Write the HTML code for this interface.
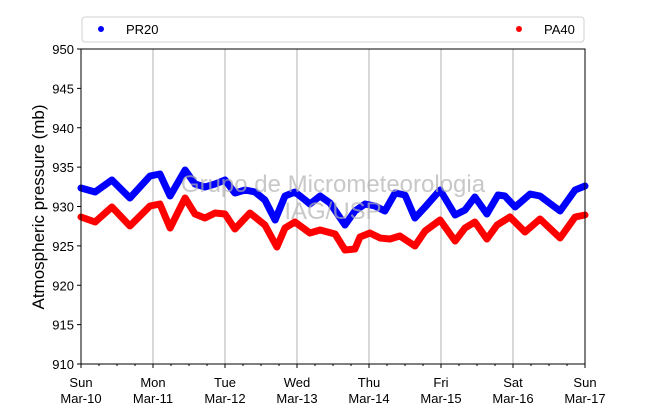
<!DOCTYPE html>
<html><head><meta charset="utf-8"><style>body{margin:0;background:#fff}svg text{font-family:"Liberation Sans",sans-serif}</style></head>
<body>
<svg id="c" width="650" height="409" xmlns="http://www.w3.org/2000/svg"></svg>
<script>
const dayLabels=["Sun","Mon","Tue","Wed","Thu","Fri","Sat","Sun"];
const dateLabels=["Mar-10","Mar-11","Mar-12","Mar-13","Mar-14","Mar-15","Mar-16","Mar-17"];
const yTicks=[910,915,920,925,930,935,940,945,950];
const pr20Hours=[0,4.7,10.3,16.3,23,26.3,28,29.7,34.7,38,41.3,44.7,48,51.3,54.7,58,61.3,64.7,68,71.3,74.7,76.3,79.7,83,88,91.3,94.7,98,101.3,104.7,108,111.3,114.7,119.7,124.7,128,131.3,135.3,139,141.3,144.7,149.7,153,159.7,164.7,168];
const pr20Values=[932.35,931.84,933.37,931.08,933.87,934.13,932.73,931.33,934.63,932.86,932.48,932.86,933.37,931.71,932.1,931.84,930.83,928.29,931.33,931.84,930.83,930.32,931.33,930.44,927.65,929.43,930.32,930.06,929.43,931.71,931.46,928.54,929.94,932.1,928.92,929.56,931.21,929.05,931.46,931.33,929.94,931.59,931.33,929.43,932.1,932.6];
const pa40Hours=[0,4.7,10.3,16.3,23,26.3,29.7,34.7,38,41.3,44.7,48,51.3,56.3,61.3,65.3,68,71.3,76.3,79.7,84.7,88,91.3,93,96.3,99.7,103,106.3,111.3,114.7,119.7,124.7,128,131.3,135.3,138.7,143,148,153,159.7,164.7,168];
const pa40Values=[928.67,928.03,929.94,927.52,930.06,930.32,927.27,931.08,929.05,928.54,929.17,929.05,927.14,929.17,927.65,924.86,927.27,928.03,926.63,927.02,926.51,924.48,924.6,926.13,926.63,926,925.87,926.25,924.98,926.89,928.29,925.62,927.27,928.03,925.87,927.65,928.67,926.76,928.41,926,928.67,928.92];

const NS="http://www.w3.org/2000/svg",svg=document.getElementById('c');
const L=81,R=585,T=49,B=364;
const xs=h=>L+(R-L)*h/168, ys=v=>B-(B-T)*(v-910)/40;
function mk(t,a,p){const e=document.createElementNS(NS,t);for(const k in a)e.setAttribute(k,a[k]);(p||svg).appendChild(e);return e;}
// grid
for(let d=1;d<7;d++){const g=mk('line',{x1:xs(d*24),x2:xs(d*24),y1:T,y2:B,stroke:'#b0b0b0','stroke-width':1});

}
// series
function series(hs,vs,col,name){
 const pts=hs.map((h,i)=>xs(h).toFixed(1)+','+ys(vs[i]).toFixed(1)).join(' ');
 const p=mk('polyline',{points:pts,fill:'none',stroke:col,'stroke-width':7,'stroke-linejoin':'round','stroke-linecap':'round'});
 
 
}
series(pr20Hours,pr20Values,'#0000ff','pr20-series');
series(pa40Hours,pa40Values,'#ff0000','pa40-series');
// watermark
const w1=mk('text',{x:333,y:192,'text-anchor':'middle','font-size':24,fill:'#b0b0b0','fill-opacity':0.7});w1.textContent='Grupo de Micrometeorologia';


const w2=mk('text',{x:333,y:219,'text-anchor':'middle','font-size':24,fill:'#b0b0b0','fill-opacity':0.7});w2.textContent='IAG/USP';


// frame
const f=mk('rect',{x:L,y:T,width:R-L,height:B-T,fill:'none',stroke:'#000','stroke-width':1});


// y ticks
yTicks.forEach(v=>{mk('line',{x1:L-4,x2:L,y1:ys(v),y2:ys(v),stroke:'#000'});
 const t=mk('text',{x:L-7,y:ys(v)+5,'text-anchor':'end','font-size':13});t.textContent=v;
 
 });
// x ticks
for(let h=0;h<=168;h+=6){mk('line',{x1:xs(h),x2:xs(h),y1:B,y2:B+(h%24?2:4),stroke:'#000'});}
dayLabels.forEach((d,i)=>{const t=mk('text',{x:xs(i*24),y:387,'text-anchor':'middle','font-size':13});t.textContent=d;
 
 
 const t2=mk('text',{x:xs(i*24),y:403,'text-anchor':'middle','font-size':13});t2.textContent=dateLabels[i];
 
 });
const yt=mk('text',{x:44,y:207,'text-anchor':'middle','font-size':17,transform:'rotate(-90 44 207)'});yt.textContent='Atmospheric pressure (mb)';


// legend
const lg=mk('g',{});


mk('rect',{x:82,y:17,width:502,height:25,rx:3,fill:'#fff',stroke:'#d0d0d0'},lg);
mk('circle',{cx:101,cy:29,r:3,fill:'#0000ff'},lg);
const l1=mk('text',{x:126,y:34,'font-size':13},lg);l1.textContent='PR20';


mk('circle',{cx:519,cy:29,r:3,fill:'#ff0000'},lg);
const l2=mk('text',{x:544,y:34,'font-size':13},lg);l2.textContent='PA40';


</script>
</body></html>
